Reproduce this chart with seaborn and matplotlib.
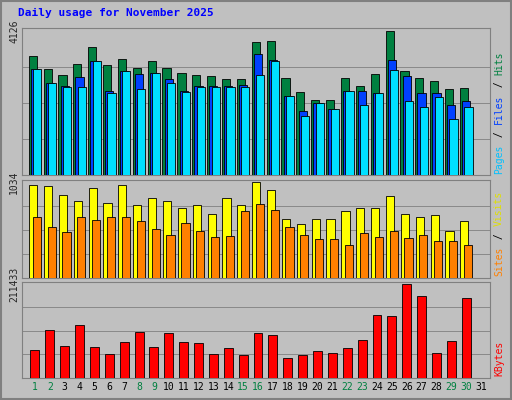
import matplotlib
matplotlib.use("Agg")
import matplotlib.pyplot as plt
import seaborn as sns

sns.set_style("white")
plt.rcParams['font.family'] = ['DejaVu Sans Mono']

days = list(range(1, 32))
weekend = [1, 2, 8, 9, 15, 16, 22, 23, 29, 30]
hits = [3419, 3024, 2854, 3165, 3674, 3137, 3335, 3052, 3250, 3052, 2911, 2854, 2826, 2741, 2741,
        3815, 3843, 2769, 2374, 2148, 2148, 2769, 2543, 2882, 4126, 2967, 2769, 2685, 2459, 2487]
files = [3024, 2628, 2543, 2798, 3250, 2402, 2967, 2882, 2911, 2741, 2402, 2543, 2543, 2543, 2572,
         3476, 3306, 2261, 1837, 2063, 1893, 2402, 2402, 2346, 3306, 2826, 2346, 2346, 2006, 2120]
pages = [3024, 2628, 2515, 2515, 3250, 2346, 2967, 2459, 2911, 2628, 2374, 2515, 2515, 2515, 2515,
         2854, 3278, 2261, 1696, 2063, 1893, 2402, 2006, 2346, 2996, 2120, 1950, 2233, 1611, 1950]
visits = [1001, 990, 891, 825, 968, 803, 1001, 781, 858, 825, 748, 781, 693, 858, 781,
          1034, 946, 638, 583, 638, 638, 726, 748, 748, 880, 693, 660, 682, 506, 616]
sites = [660, 550, 495, 660, 627, 660, 660, 616, 528, 462, 594, 506, 440, 451, 726,
         792, 737, 550, 462, 418, 418, 352, 484, 440, 506, 429, 462, 396, 396, 352]
kbytes = [62972, 107952, 71968, 119197, 69719, 53976, 80964, 103454, 69719, 101205, 80964, 78715,
          53976, 67470, 51727, 101205, 96707, 44980, 51727, 60723, 56225, 67470, 85462, 141687,
          139438, 211433, 184418, 56225, 83213, 179920]

bg = "#C0C0C0"
fig = plt.figure(figsize=(5.12, 4.0), dpi=100, facecolor=bg)
n = len(hits)
x = days[:n]

def panel(rect, series, top):
    ax = fig.add_axes(rect, facecolor=bg)
    for vals, col, off, w in series:
        ax.bar([d + off for d in x], vals, width=w, color=col, edgecolor="black", linewidth=0.6, zorder=3)
    ax.set_xlim(0.13, 31.6)
    ax.set_ylim(0, top * 1.02)
    for f in (0.25, 0.5, 0.75):
        ax.axhline(top * f, color="#808080", lw=0.6, zorder=1)
    ax.set_yticks([top])
    ax.set_yticklabels([str(top)], rotation=90, va="center", fontsize=7)
    ax.tick_params(axis="y", length=0, pad=2)
    ax.set_xticks([])
    for s in ax.spines.values():
        s.set_color("#808080")
    return ax

ax1 = panel([0.043, 0.5625, 0.914, 0.3675],
            [(hits, "#008040", -0.15, 0.55), (files, "#0040FF", 0.0, 0.55), (pages, "#00E0FF", 0.15, 0.55)], max(hits))
ax2 = panel([0.043, 0.305, 0.914, 0.245],
            [(visits, "#FFFF00", -0.12, 0.55), (sites, "#FF8000", 0.12, 0.55)], max(visits))
ax3 = panel([0.043, 0.055, 0.914, 0.24],
            [(kbytes, "#FF0000", 0.0, 0.6)], max(kbytes))
ax3.set_xticks(days)
ax3.set_xticklabels([str(d) for d in days], fontsize=7)
ax3.tick_params(axis="x", length=0, pad=3)
for lab, d in zip(ax3.get_xticklabels(), days):
    lab.set_color("#008040" if d in weekend else "black")

fig.text(0.035, 0.96, "Daily usage for November 2025", color="#0000FF", fontsize=8, fontweight="bold")

def side(parts, y0):
    y = y0
    for txt, col in parts:
        fig.text(0.975, y, txt, color=col, rotation=90, fontsize=7, ha="center", va="bottom")
        y += len(txt) * 0.0155
side([("Pages", "#00C0FF"), (" / ", "black"), ("Files", "#0040FF"), (" / ", "black"), ("Hits", "#008040")], 0.565)
side([("Sites", "#FF8000"), (" / ", "black"), ("Visits", "#E0E000")], 0.31)
side([("KBytes", "#FF0000")], 0.06)

fig.patches.append(plt.Rectangle((0.002, 0.002), 0.996, 0.996, transform=fig.transFigure,
                                 fill=False, edgecolor="#808080", lw=1.5))
fig.savefig("out.png", dpi=100, facecolor=bg)
